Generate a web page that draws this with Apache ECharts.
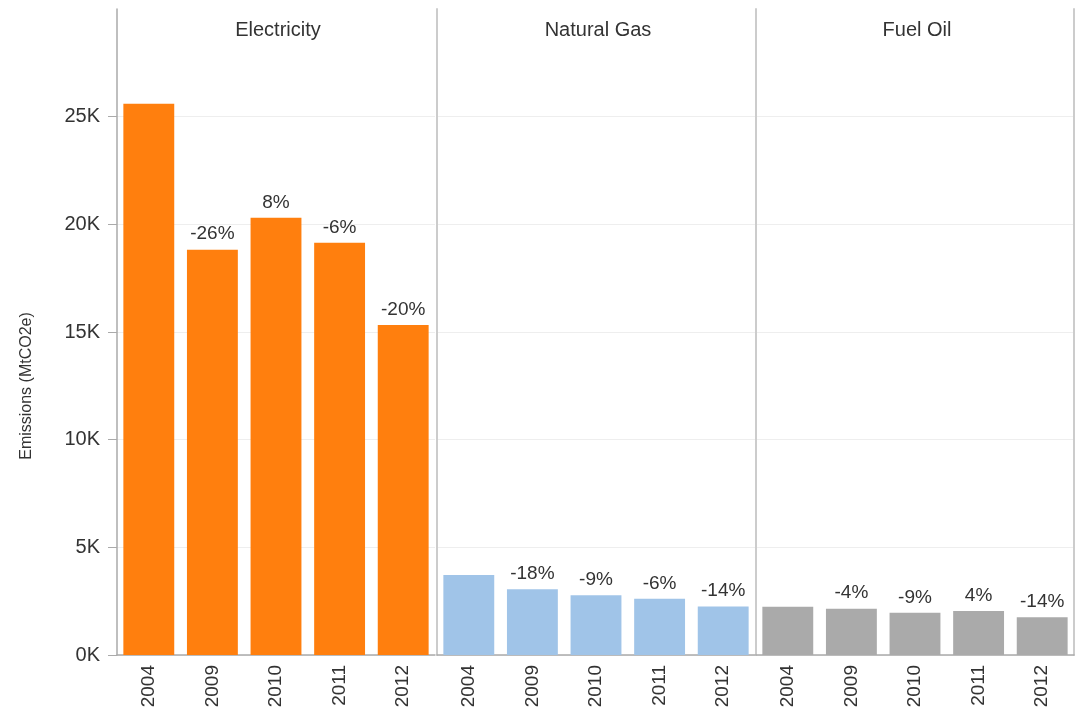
<!DOCTYPE html>
<html>
<head>
    <meta charset="utf-8">
    <title>Emissions by source</title>
    <script src="https://cdn.jsdelivr.net/npm/echarts@6/dist/echarts.min.js"></script>
    <style>
        html, body { margin: 0; padding: 0; background: #fff; }
        #chart { width: 1078px; height: 719px; }
    </style>
</head>
<body>
<div id="chart"></div>
<script type="text/javascript">
    // data
    var years = ['2004', '2009', '2010', '2011', '2012'];
    var panels = ['Electricity', 'Natural Gas', 'Fuel Oil'];
    var electricity = [25600, 18820, 20300, 19140, 15330];
    var naturalGas = [3720, 3050, 2780, 2610, 2250];
    var fuelOil = [2240, 2150, 1960, 2040, 1750];
    var electricityPct = ['', '-26%', '8%', '-6%', '-20%'];
    var naturalGasPct = ['', '-18%', '-9%', '-6%', '-14%'];
    var fuelOilPct = ['', '-4%', '-9%', '4%', '-14%'];
    var colors = ['#ff7f0e', '#a0c4e8', '#aaaaaa'];

    var values = [electricity, naturalGas, fuelOil];
    var pcts = [electricityPct, naturalGasPct, fuelOilPct];

    var font = 'Liberation Sans, Arial, sans-serif';
    var lefts = [117, 437, 756];
    var panelW = 318;

    var myChart = echarts.init(document.getElementById('chart'));

    var grids = [], xAxes = [], yAxes = [], series = [], titles = [];
    for (var i = 0; i < 3; i++) {
        grids.push({ left: lefts[i], width: panelW, top: 9, bottom: 64 });
        titles.push({
            text: panels[i], left: lefts[i] + panelW / 2 - 3, top: 15, textAlign: 'center',
            textStyle: { fontFamily: font, fontSize: 20, fontWeight: 'normal', color: '#333' }
        });
        // category axis with the year labels
        xAxes.push({
            type: 'category', gridIndex: i, data: years,
            axisLine: { lineStyle: { color: '#aaa', width: 1.5 } },
            axisTick: { length: 8, lineStyle: { color: '#ccc', width: 1.5 } },
            axisLabel: { rotate: 90, margin: 10, fontFamily: font, fontSize: 19, color: '#333' }
        });
        // one-band axis just for the long separator ticks at panel edges
        xAxes.push({
            type: 'category', gridIndex: i, data: [''],
            axisLine: { show: false },
            axisTick: { length: 60, lineStyle: { color: '#ccc', width: 2 } },
            axisLabel: { show: false }
        });
        yAxes.push({
            type: 'value', gridIndex: i, min: 0, max: 30000, interval: 5000,
            axisLine: { show: true, lineStyle: { color: i === 0 ? '#aaa' : '#ccc', width: i === 0 ? 1.5 : 2 } },
            axisTick: { show: i === 0, length: 9, lineStyle: { color: '#aaa' } },
            axisLabel: {
                show: i === 0, showMaxLabel: false, margin: 17,
                fontFamily: font, fontSize: 20, color: '#333',
                formatter: function (v) { return (v / 1000) + 'K'; }
            },
            splitLine: { show: true, showMaxLine: false, lineStyle: { color: '#eee' } }
        });
        series.push({
            type: 'bar', xAxisIndex: i * 2, yAxisIndex: i,
            data: values[i], barCategoryGap: '20%',
            itemStyle: { color: colors[i] },
            label: {
                show: true, position: 'top', distance: 6,
                fontFamily: font, fontSize: 19, color: '#333',
                formatter: (function (labels) {
                    return function (p) { return labels[p.dataIndex]; };
                })(pcts[i])
            }
        });
    }
    // right edge line of the last panel
    yAxes.push({
        type: 'value', gridIndex: 2, position: 'right', min: 0, max: 30000,
        axisLine: { show: true, lineStyle: { color: '#ccc', width: 2 } },
        axisTick: { show: false }, axisLabel: { show: false }, splitLine: { show: false }
    });

    myChart.setOption({
        animation: false,
        title: titles,
        grid: grids,
        xAxis: xAxes,
        yAxis: yAxes,
        series: series,
        graphic: [{
            type: 'text', x: 27, y: 386, rotation: Math.PI / 2,
            style: {
                text: 'Emissions (MtCO2e)', align: 'center', verticalAlign: 'middle',
                font: '16px ' + font, fill: '#333'
            }
        }]
    });
</script>
</body>
</html>
